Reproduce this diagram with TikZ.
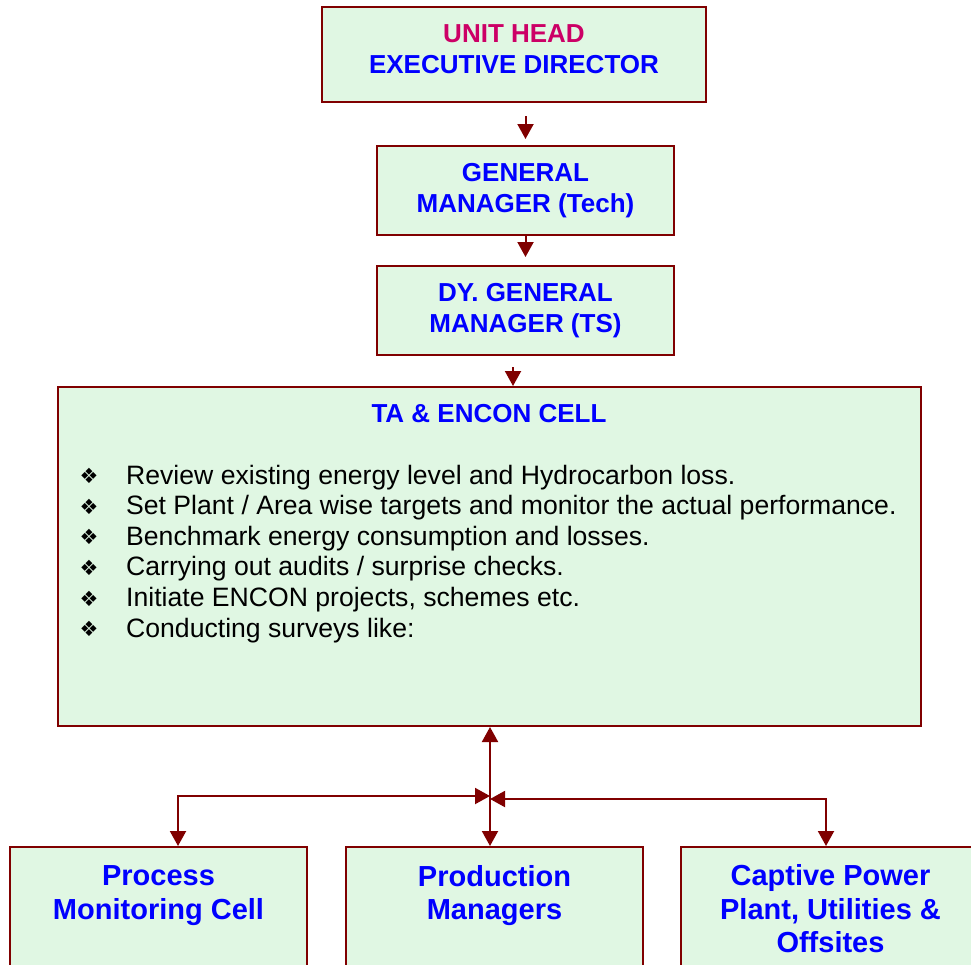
\documentclass[tikz,border=0pt]{standalone}
\usepackage{fontspec}
\setmainfont{Liberation Sans}
\newfontfamily\djv{DejaVu Sans}
\usetikzlibrary{arrows.meta,calc}
\definecolor{boxfill}{HTML}{E0F7E3}
\definecolor{dred}{HTML}{800000}
\definecolor{headred}{HTML}{CC0066}
\definecolor{tblue}{HTML}{0000FF}
\begin{document}
\begin{tikzpicture}[x=1pt,y=-1pt,
  box/.style={draw=dred, line width=2pt, fill=boxfill, inner sep=0pt, align=center,
    font=\fontsize{26}{31}\selectfont\bfseries, text=tblue},
  lowbox/.style={box, minimum width=297, minimum height=124,
    font=\fontsize{29}{33.5}\selectfont\bfseries},
  tip/.tip={Triangle[length=15pt,width=16pt]},
  arr/.style={draw=dred, line width=2pt, -tip},
  dblarr/.style={draw=dred, line width=2pt, tip-tip},
  bul/.style={font=\djv\fontsize{21}{21}\selectfont, text=black, inner sep=0pt},
  btxt/.style={font=\fontsize{26.6}{31}\selectfont, text=black, inner sep=0pt, anchor=base west},
]
\useasboundingbox (0,0) rectangle (971,964);
\clip (0,0) rectangle (971,964);

\node[box, minimum width=384, minimum height=95] (ed) at (514,54.5)
  {\textcolor{headred}{UNIT HEAD}\\EXECUTIVE DIRECTOR\rule[-11pt]{0pt}{11pt}};
\node[box, minimum width=297, minimum height=89] (gm) at (525.5,190.5)
  {GENERAL\\MANAGER (Tech)};
\node[box, minimum width=297, minimum height=89] (dgm) at (525.5,310.5)
  {DY. GENERAL\\MANAGER (TS)};
\node[box, minimum width=863, minimum height=339] (ta) at (489.5,556.5) {};

\node[font=\fontsize{26}{31}\selectfont\bfseries, text=tblue, inner sep=0pt, anchor=base]
  (tatitle) at (489,422) {TA \& ENCON CELL};

\foreach \t [count=\i from 0] in {
  Review existing energy level and Hydrocarbon loss.,
  Set Plant / Area wise targets and monitor the actual performance.,
  Benchmark energy consumption and losses.,
  Carrying out audits / surprise checks.,
  {Initiate ENCON projects, schemes etc.},
  Conducting surveys like:}{
  \node[bul] (b\i) at (89,{476+30.6*\i}) {❖};
  \node[btxt] (t\i) at (126,{484+30.6*\i}) {\t};
}

\node[lowbox] (pmc) at (158.5,909)
  {Process\\Monitoring Cell\rule[-33pt]{0pt}{33pt}};
\node[lowbox] (pm) at (494.5,909)
  {Production\\Managers\rule[-33pt]{0pt}{33pt}};
\node[lowbox, minimum width=299] (cpp) at (830.5,909)
  {Captive Power\\Plant, Utilities \&\\Offsites};

\coordinate (x3) at (513,0);
\coordinate (jl) at (490,796);
\coordinate (jr) at (490,799);

\draw[arr, shorten <=13pt, shorten >=6pt] (ed.south -| gm.north) -- (gm.north);
\draw[arr, shorten >=8pt] (gm.south) -- (dgm.north);
\draw[arr, shorten <=11pt] (dgm.south -| x3) -- (ta.north -| x3);
\draw[dblarr] (ta.south -| jl) -- (pm.north -| jl);
\draw[dblarr] (jl) -| ($(pmc.north)+(19.5,0)$);
\draw[dblarr] (jr) -| ($(cpp.north)+(-4.5,0)$);
\end{tikzpicture}
\end{document}
